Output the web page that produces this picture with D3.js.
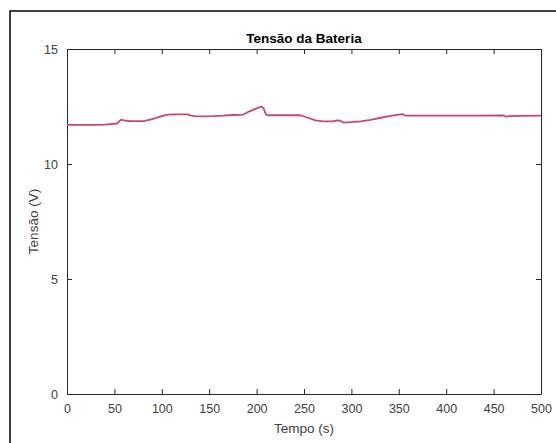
<!DOCTYPE html>
<html>
<head>
<meta charset="utf-8">
<script src="https://cdn.jsdelivr.net/npm/d3@7"></script>
<style>
  html, body { margin: 0; padding: 0; background: #fff; }
  svg { display: block; font-family: "Liberation Sans", Arial, Helvetica, sans-serif; }
</style>
</head>
<body>
<svg id="chart" width="556" height="443"></svg>
<script>
// Battery voltage over time
const tempo = [0, 10, 20, 30, 40, 45, 50, 53, 55, 57, 60, 65, 75, 82, 90, 100, 106, 115, 127, 131,
  135, 145, 155, 165, 175, 186, 192, 200, 205, 207, 210, 212, 230, 246, 255, 262, 270, 280, 285, 288,
  292, 300, 310, 320, 330, 340, 350, 354, 357, 370, 400, 430, 460, 463, 467, 480, 500];
const tensao = [11.70, 11.70, 11.70, 11.70, 11.71, 11.73, 11.75, 11.76, 11.85, 11.93, 11.90, 11.87, 11.86, 11.87, 11.95, 12.08, 12.15, 12.16, 12.16, 12.10,
  12.08, 12.07, 12.08, 12.10, 12.13, 12.15, 12.28, 12.42, 12.50, 12.45, 12.15, 12.12, 12.12, 12.12, 12.00, 11.90, 11.85, 11.85, 11.90, 11.88,
  11.80, 11.82, 11.85, 11.92, 12.00, 12.08, 12.15, 12.17, 12.10, 12.10, 12.10, 12.10, 12.11, 12.06, 12.08, 12.09, 12.10];
const xTicks = [0, 50, 100, 150, 200, 250, 300, 350, 400, 450, 500];
const yTicks = [0, 5, 10, 15];

const svg = d3.select("#chart");
const axisColor = "#262626";
const labelColor = "#404040";
const margin = { left: 67, right: 15, top: 49, bottom: 49 };
const W = 556, H = 443;

// Figure frame
svg.append("rect")
  .attr("x", 10).attr("y", 11)
  .attr("width", 600).attr("height", 500)
  .attr("fill", "none").attr("stroke", "#000").attr("stroke-width", 1.5);

const x = d3.scaleLinear().domain([0, 500]).range([margin.left, W - margin.right]);
const y = d3.scaleLinear().domain([0, 15]).range([H - margin.bottom, margin.top]);

const tickLen = 5;

function styleAxis(g, showLabels) {
  g.select(".domain").attr("stroke", axisColor).attr("stroke-width", 1);
  g.selectAll(".tick line").attr("stroke", axisColor).attr("stroke-width", 1);
  g.selectAll(".tick text")
    .attr("fill", labelColor)
    .attr("font-size", "12.5px")
    .style("display", showLabels ? null : "none");
}

// Bottom axis
svg.append("g")
  .attr("transform", `translate(0,${y(0)})`)
  .call(d3.axisBottom(x).tickValues(xTicks).tickSizeInner(-tickLen).tickSizeOuter(0).tickPadding(10))
  .call(g => styleAxis(g, true));

// Top axis (mirror ticks)
svg.append("g")
  .attr("transform", `translate(0,${y(15)})`)
  .call(d3.axisTop(x).tickValues(xTicks).tickSizeInner(-tickLen).tickSizeOuter(0))
  .call(g => styleAxis(g, false));

// Left axis
svg.append("g")
  .attr("transform", `translate(${x(0)},0)`)
  .call(d3.axisLeft(y).tickValues(yTicks).tickSizeInner(-tickLen).tickSizeOuter(0).tickPadding(9))
  .call(g => styleAxis(g, true));

// Right axis (mirror ticks)
svg.append("g")
  .attr("transform", `translate(${x(500)},0)`)
  .call(d3.axisRight(y).tickValues(yTicks).tickSizeInner(-tickLen).tickSizeOuter(0))
  .call(g => styleAxis(g, false));

// Voltage trace
const pts = tempo.map((t, i) => [t, tensao[i]]);
svg.append("path")
  .datum(pts)
  .attr("fill", "none")
  .attr("stroke", "#c9476a")
  .attr("stroke-width", 1.8)
  .attr("stroke-linejoin", "round")
  .attr("d", d3.line().x(d => x(d[0])).y(d => y(d[1])));

// Title and labels
svg.append("text")
  .attr("x", (x(0) + x(500)) / 2).attr("y", 43)
  .attr("text-anchor", "middle")
  .attr("font-size", "13.5px").attr("font-weight", "bold").attr("fill", "#000")
  .text("Tensão da Bateria");

svg.append("text")
  .attr("x", (x(0) + x(500)) / 2).attr("y", 433)
  .attr("text-anchor", "middle")
  .attr("font-size", "13.5px").attr("fill", labelColor)
  .text("Tempo (s)");

svg.append("text")
  .attr("transform", `translate(38,${(y(0) + y(15)) / 2}) rotate(-90)`)
  .attr("text-anchor", "middle")
  .attr("font-size", "13.5px").attr("fill", labelColor)
  .text("Tensão (V)");
</script>
</body>
</html>
